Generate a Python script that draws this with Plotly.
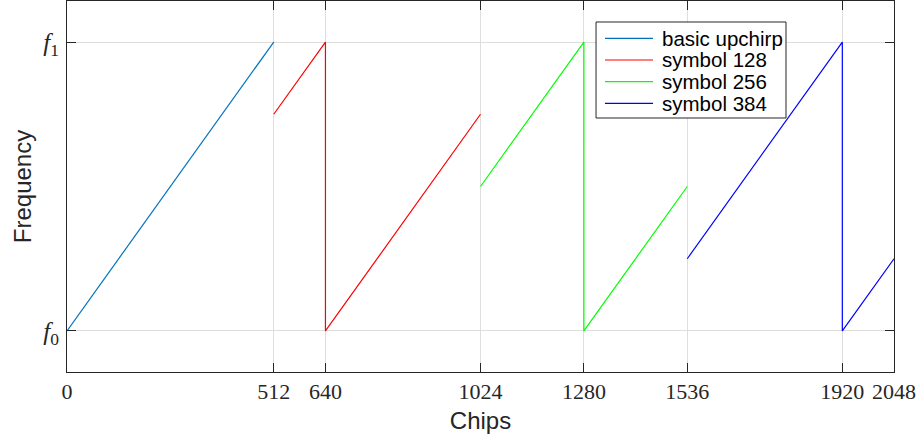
import plotly.graph_objects as go

# Chirp frequency trajectories (normalised: 0 = f0, 1 = f1) over chip index
upchirp_x = [0, 512]
upchirp_y = [0, 1]

sym128_x = [512, 640, 640, 1024]
sym128_y = [0.75, 1, 0, 0.75]

sym256_x = [1024, 1280, 1280, 1536]
sym256_y = [0.5, 1, 0, 0.5]

sym384_x = [1536, 1920, 1920, 2048]
sym384_y = [0.25, 1, 0, 0.25]

x_ticks = [0, 512, 640, 1024, 1280, 1536, 1920, 2048]
y_ticks = [0, 1]
y_tick_labels = ["<i>f</i><sub>0</sub>", "<i>f</i><sub>1</sub>"]

series_names = ["basic upchirp", "symbol 128", "symbol 256", "symbol 384"]
series_colors = ["#0072BD", "#FF0000", "#00FF00", "#0000FF"]
series_x = [upchirp_x, sym128_x, sym256_x, sym384_x]
series_y = [upchirp_y, sym128_y, sym256_y, sym384_y]

fig = go.Figure()
for name, xs, ys, color in zip(series_names, series_x, series_y, series_colors):
    fig.add_trace(go.Scatter(x=xs, y=ys, mode="lines", name=name,
                             line=dict(color=color, width=1.2), showlegend=False))

axis_common = dict(
    showline=True, linecolor="#262626", linewidth=1, mirror="ticks",
    ticks="inside", ticklen=9, tickcolor="#262626", tickwidth=1,
    showgrid=True, gridcolor="#dedede", gridwidth=1, zeroline=False,
)
tick_font = dict(family="Liberation Serif, DejaVu Serif, serif", size=22, color="#262626")
title_font = dict(family="Liberation Sans, Arial, sans-serif", size=24, color="#262626")

# Compact legend box drawn in paper coordinates (top-right area of the axes)
legend_box = dict(x0=0.6397, x1=0.8694, y0=0.6846, y1=0.9434)
legend_line_x = (0.6505, 0.7086)
legend_text_x = 0.7170
legend_row_y = [0.8995, 0.8410, 0.7825, 0.7243]

shapes = [dict(type="rect", xref="paper", yref="paper", **legend_box,
               fillcolor="white", line=dict(color="#262626", width=1), layer="above")]
annotations = []
for name, color, ry in zip(series_names, series_colors, legend_row_y):
    shapes.append(dict(type="line", xref="paper", yref="paper",
                       x0=legend_line_x[0], x1=legend_line_x[1], y0=ry, y1=ry,
                       line=dict(color=color, width=1.2), layer="above"))
    annotations.append(dict(text=name, xref="paper", yref="paper", x=legend_text_x, y=ry,
                            xanchor="left", yanchor="middle", showarrow=False,
                            font=dict(family="Liberation Sans, Arial, sans-serif",
                                      size=20.5, color="black")))

fig.update_layout(
    width=918, height=439,
    margin=dict(l=67, r=24, t=1, b=67),
    paper_bgcolor="white", plot_bgcolor="white",
    xaxis=dict(range=[0, 2048], tickvals=x_ticks, ticktext=[str(v) for v in x_ticks],
               tickfont=tick_font,
               title=dict(text="Chips", font=title_font, standoff=8),
               **axis_common),
    yaxis=dict(range=[-0.142, 1.142], tickvals=y_ticks, ticktext=y_tick_labels,
               tickfont=dict(tick_font, size=25), ticklabelstandoff=2,
               title=dict(text="Frequency", font=title_font, standoff=4),
               **axis_common),
    shapes=shapes,
    annotations=annotations,
    showlegend=False,
)

fig.write_html("out.html")
